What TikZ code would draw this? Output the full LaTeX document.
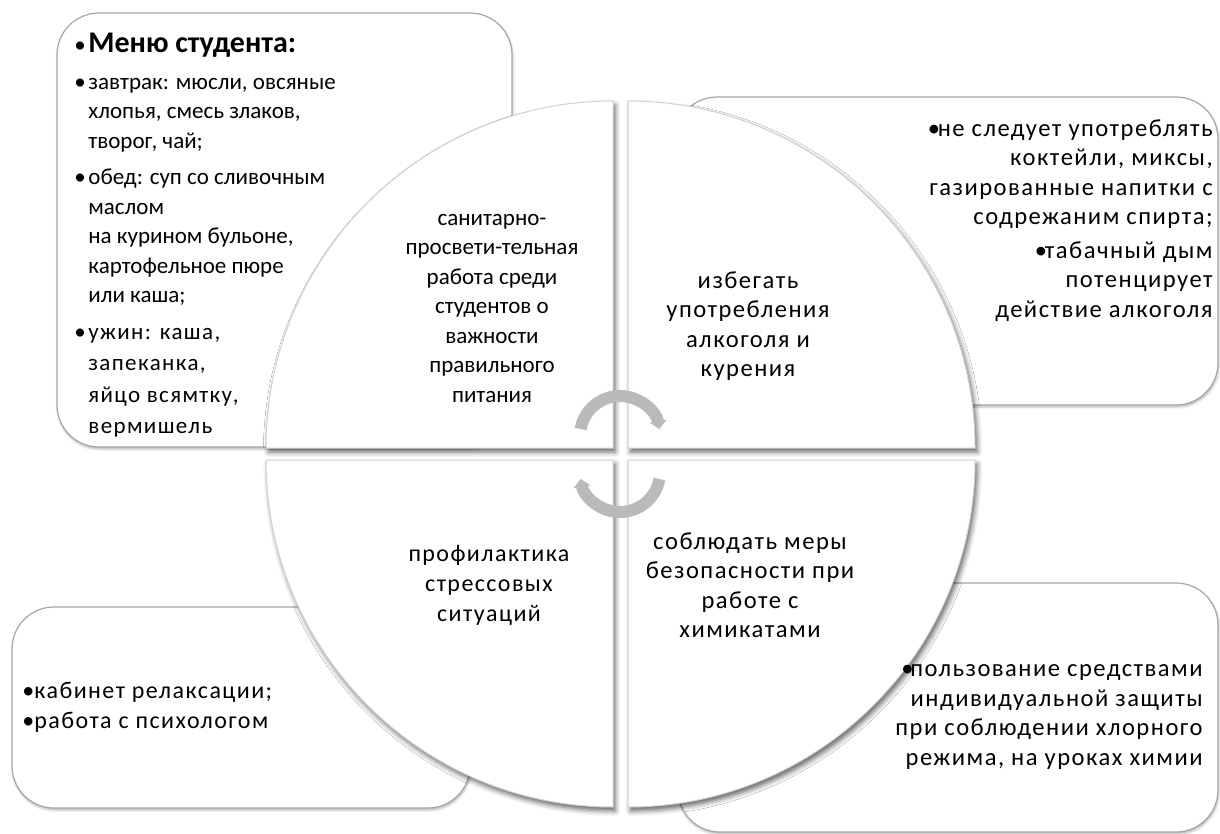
\documentclass[tikz,border=0pt]{standalone}
\usepackage{fontspec}
\setmainfont{Carlito}
\newfontfamily\widefont[LetterSpace=6]{Carlito}
\usetikzlibrary{shadows.blur, arrows.meta}

\newcommand{\bul}[1]{\makebox[#1][l]{•}}
\newcommand{\tightfont}{\fontsize{11.5}{14.75}\selectfont}
\newcommand{\loosefont}{\widefont\fontsize{11.5}{14.75}\selectfont}
\newcommand{\midfont}{\widefont\fontsize{12}{15}\selectfont}
\newcommand{\largefont}{\widefont\fontsize{12.3}{14.75}\selectfont}

\tikzset{
  box/.style={draw=black!35, line width=0.6pt, fill=white, rounded corners=21pt,
    blur shadow={shadow xshift=0.4pt, shadow yshift=-1pt, shadow blur radius=1.2pt, shadow opacity=30}},
  quad/.style={draw=black!18, line width=0.5pt, fill=white,
    blur shadow={shadow xshift=1.2pt, shadow yshift=-2pt, shadow blur radius=2.5pt, shadow opacity=60}},
  turn/.style={draw=black!27, line width=6pt, -{Triangle[length=4pt, width=8.5pt]}},
  label/.style={inner sep=0pt, align=center}
}

\begin{document}
\begin{tikzpicture}[x=0.5pt, y=-0.5pt]
  \useasboundingbox (0,0) rectangle (1220,834);

  % boxes behind the circle
  \path[box] (57,13) rectangle (512,447);
  \path[box] (675,97) rectangle (1218,405);
  \path[box] (12,607) rectangle (470,808);
  \path[box] (678,583) rectangle (1218,832);

  % the four quarters
  \path[quad] (613,448) -- (266,448) arc[start angle=180, end angle=270, radius=347] -- cycle;
  \path[quad] (628,448) -- (628,101) arc[start angle=270, end angle=360, radius=347] -- cycle;
  \path[quad] (613,460) -- (613,807) arc[start angle=90, end angle=180, radius=347] -- cycle;
  \path[quad] (628,460) -- (975,460) arc[start angle=0, end angle=90, radius=347] -- cycle;

  % turning arrows
  \draw[turn] (620,436) ++(190:40) arc[start angle=190, end angle=350, radius=40];
  \draw[turn] (620,472) ++(10:40) arc[start angle=10, end angle=170, radius=40];

  % texts of the quarters
  \node (health) [label, font=\tightfont] at (492,308)
    {санитарно-\\просвети-тельная\\работа среди\\студентов о\\важности\\правильного\\питания};
  \node (alcohol) [label, font=\largefont] at (748,326)
    {избегать\\употребления\\алкоголя и\\курения};
  \node (stress) [label, font=\midfont] at (489,585)
    {профилактика\\стрессовых\\ситуаций};
  \node (safety) [label, font=\largefont] at (750,585)
    {соблюдать меры\\безопасности при\\работе с\\химикатами};

  % texts of the boxes
  \node (menu) [anchor=north west, inner sep=0pt, align=left, font=\tightfont] at (74,33) {%
    \bul{7pt}{\fontsize{15}{15}\selectfont\bfseries Меню студента:}\\[3.5pt]
    \bul{7pt}завтрак: мюсли, овсяные\\
    \hspace*{7pt}хлопья, смесь злаков,\\
    \hspace*{7pt}творог, чай;\\[3.5pt]
    \bul{7pt}обед: суп со сливочным\\
    \hspace*{7pt}маслом\\
    \hspace*{7pt}на курином бульоне,\\
    \hspace*{7pt}картофельное пюре\\
    \hspace*{7pt}или каша;\\[3.5pt]
    \bul{7pt}{\loosefont ужин: каша,}\\[1pt]
    \hspace*{7pt}{\loosefont запеканка,}\\[1pt]
    \hspace*{7pt}{\loosefont яйцо всямтку,}\\[1pt]
    \hspace*{7pt}{\loosefont вермишель}};
  \node (drinks) [anchor=north east, inner sep=0pt, align=right, font=\largefont] at (1213,119) {%
    \bul{5pt}не следует употреблять\\
    коктейли, миксы,\\
    газированные напитки с\\
    содрежаним спирта;\\[2pt]
    \bul{5pt}табачный дым\\
    потенцирует\\
    действие алкоголя};
  \node (relax) [anchor=west, inner sep=0pt, align=left, font=\midfont] at (22,707) {%
    \bul{6pt}кабинет релаксации;\\
    \bul{6pt}работа с психологом};
  \node (protect) [anchor=east, inner sep=0pt, align=right, font=\largefont] at (1203,717) {%
    \bul{4.5pt}пользование средствами\\
    индивидуальной защиты\\
    при соблюдении хлорного\\
    режима, на уроках химии};
\end{tikzpicture}
\end{document}
